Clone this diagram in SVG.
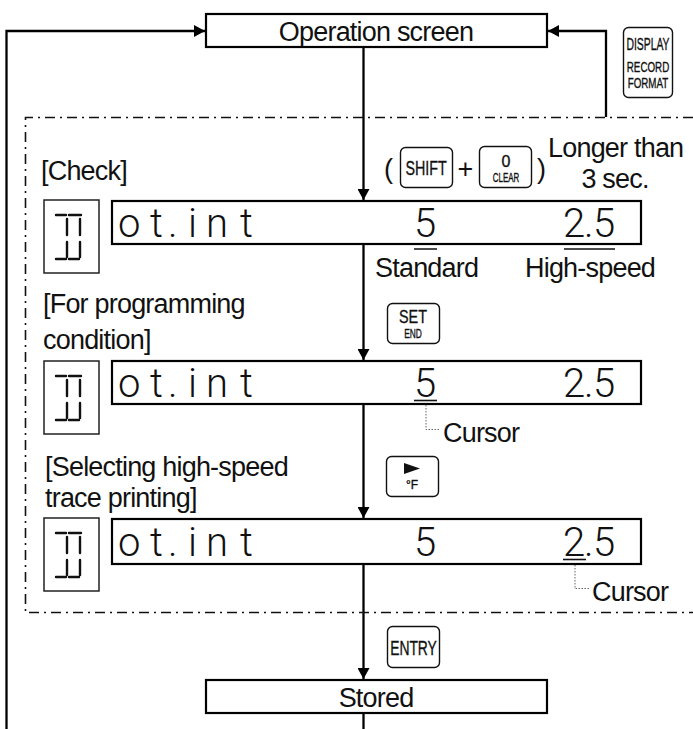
<svg xmlns="http://www.w3.org/2000/svg" width="693" height="729" viewBox="0 0 693 729">
<style>
text{font-family:"Liberation Sans",Arial,sans-serif;fill:#111}
.t{font-size:27px;letter-spacing:-0.8px}
.c{text-anchor:middle}
.b{fill:#fff;stroke:#000;stroke-width:2.2}
.s{fill:#fff;stroke:#222;stroke-width:1.5}
.k{fill:#fff;stroke:#111;stroke-width:1.4}
.kt{text-anchor:middle;stroke:#111;stroke-width:0.35}
.l{fill:none;stroke:#000;stroke-width:2.3}
.d{fill:none;stroke:#111;stroke-width:1.6;stroke-dasharray:10 5 2 5}
.u{stroke:#111;stroke-width:1.6}
.g{fill:none;stroke:#666;stroke-width:1;stroke-dasharray:1.5 1.5}
.seg{fill:none;stroke:#111;stroke-width:2.4;stroke-linecap:round}
.lcd{font-family:"Roboto","DejaVu Sans",sans-serif;font-weight:300;font-size:40px;fill:#111}
</style>
<defs>
<marker id="a" markerUnits="userSpaceOnUse" markerWidth="12" markerHeight="12" refX="11" refY="6" orient="auto"><path d="M0 0L11 6L0 12Z" fill="#000"/></marker>
<g id="icon"><rect class="s" width="55" height="73"/><path class="seg" d="M12 15H22M25 15H37M23 19V35M36 19V35M23 42V57M36 42V57M12 59H22M25 59H35"/></g>
</defs>
<g id="connectors">
<path class="l" d="M6.500 729V31H205" marker-end="url(#a)"/>
<path class="l" d="M606 117V31H548" marker-end="url(#a)"/>
<path class="l" d="M363.500 47V200" marker-end="url(#a)"/>
<path class="l" d="M363.500 245V360" marker-end="url(#a)"/>
<path class="l" d="M363.500 405V518" marker-end="url(#a)"/>
<path class="l" d="M363.500 565V679" marker-end="url(#a)"/>
<path class="l" d="M363.500 714V729"/>
<path class="g" d="M426 405V429.500H440M575 565V588.500H589"/>
</g>
<path id="dashed-frame" class="d" d="M693 117.500H25.500V612.500H693"/>
<g id="operation"><rect class="b" x="206" y="14" width="341" height="33"/><text class="t c" x="376" y="41">Operation screen</text></g>
<g id="stored"><rect class="b" x="206" y="680" width="341" height="33"/><text class="t c" x="376" y="707">Stored</text></g>
<g id="key-display"><rect class="k" x="623.500" y="27.500" width="49" height="70" rx="5"/><text class="kt" font-size="16.500" transform="translate(648 50) scale(.63 1)">DISPLAY</text><text class="kt" font-size="14" transform="translate(648 72) scale(.7 1)">RECORD</text><text class="kt" font-size="14" transform="translate(648 88) scale(.7 1)">FORMAT</text></g>
<g id="shift-combo"><text class="t c" x="388" y="178">(</text><rect class="k" x="400.500" y="147.500" width="52" height="40" rx="5"/><text class="kt" font-size="21" transform="translate(426 175) scale(.68 1)">SHIFT</text><text class="t c" x="465" y="178">+</text><rect class="k" x="479.500" y="146.500" width="52" height="41" rx="5"/><text class="kt" font-size="16" x="506" y="166.500">0</text><text class="kt" font-size="12" transform="translate(506 182) scale(.66 1)">CLEAR</text><text class="t c" x="541" y="178">)</text></g>
<text class="t" x="548" y="157">Longer than</text>
<text class="t c" x="615" y="188">3 sec.</text>
<text class="t" x="41" y="180">[Check]</text>
<g id="panel-1"><use href="#icon" x="44" y="200"/><rect class="b" x="112" y="201" width="529" height="43"/>
<text class="lcd" x="118 150 168 180 188 206 240" y="237">ot. int</text><text class="lcd" x="414" y="237">5</text><text class="lcd" x="563 584 593" y="237">2.5</text></g>
<path class="u" d="M414 249H437M564 249H615"/>
<text class="t" x="375" y="277">Standard</text><text class="t" x="525" y="277">High-speed</text>
<text class="t" x="43" y="313">[For programming</text><text class="t" x="43" y="349">condition]</text>
<g id="key-set"><rect class="k" x="387.500" y="303.500" width="52" height="40" rx="5"/><text class="kt" font-size="18" transform="translate(413 323) scale(.8 1)">SET</text><text class="kt" font-size="12" transform="translate(413 338) scale(.7 1)">END</text></g>
<g id="panel-2"><use href="#icon" x="44" y="361"/><rect class="b" x="112" y="361" width="529" height="43"/>
<text class="lcd" x="118 150 168 180 188 206 240" y="397">ot. int</text><text class="lcd" x="414" y="397">5</text><text class="lcd" x="563 584 593" y="397">2.5</text><path class="u" d="M414 400.500H437"/></g>
<text class="t" x="443" y="442">Cursor</text>
<text class="t" x="45" y="476">[Selecting high-speed</text><text class="t" x="45" y="507">trace printing]</text>
<g id="key-right"><rect class="k" x="386.500" y="456.500" width="52" height="40" rx="5"/><path d="M404 463L420 468.500L404 474Z" fill="#111"/><text class="kt" font-size="12" x="412" y="489">°F</text></g>
<g id="panel-3"><use href="#icon" x="44" y="518"/><rect class="b" x="112" y="519" width="529" height="45"/>
<text class="lcd" x="118 150 168 180 188 206 240" y="556">ot. int</text><text class="lcd" x="414" y="556">5</text><text class="lcd" x="563 584 593" y="556">2.5</text><path class="u" d="M563 559.500H586"/></g>
<text class="t" x="592" y="601">Cursor</text>
<g id="key-entry"><rect class="k" x="387.500" y="626.500" width="52" height="41" rx="5"/><text class="kt" font-size="21" transform="translate(413.500 655) scale(.66 1)">ENTRY</text></g>
</svg>
